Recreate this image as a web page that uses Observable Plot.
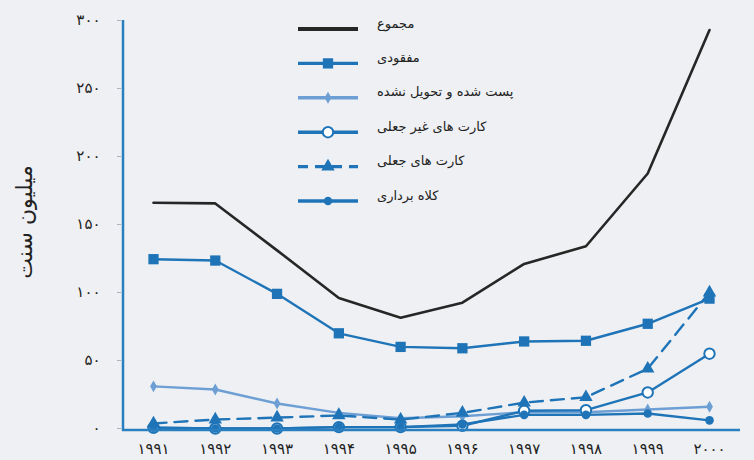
<!DOCTYPE html>
<html><head><meta charset="utf-8">
<script src="https://cdn.jsdelivr.net/npm/d3@7"></script>
<script src="https://cdn.jsdelivr.net/npm/@observablehq/plot@0.6"></script>
<style>body{margin:0;background:#eef0f3;}</style>
</head><body><div id="chart"></div>
<script>
const years = [1991, 1992, 1993, 1994, 1995, 1996, 1997, 1998, 1999, 2000];
const yearLabels = ["۱۹۹۱", "۱۹۹۲", "۱۹۹۳", "۱۹۹۴", "۱۹۹۵", "۱۹۹۶", "۱۹۹۷", "۱۹۹۸", "۱۹۹۹", "۲۰۰۰"];
const yTicks = [0, 50, 100, 150, 200, 250, 300];
const yTickLabels = ["۰", "۵۰", "۱۰۰", "۱۵۰", "۲۰۰", "۲۵۰", "۳۰۰"];
const yLabel = "میلیون سنت";

const seriesNames = ["مجموع", "مفقودی", "پست شده و تحویل نشده", "کارت های غیر جعلی", "کارت های جعلی", "کلاه برداری"];
const total          = [166, 165.5, 131, 96, 81.5, 92.5, 121, 134, 187.5, 293];
const lost           = [124.5, 123.5, 99, 70, 60, 59, 64, 64.5, 77, 95.5];
const mailNotRecv    = [31, 28.7, 18.4, 11.5, 7.5, 9, 12, 12, 14, 16];
const nonCounterfeit = [0.5, 0, 0, 1, 1, 2, 13, 13.5, 26.5, 55];
const counterfeit    = [3.7, 6.6, 8, 9.6, 6.5, 11.5, 19, 23, 44, 100];
const fraud          = [0.5, 0, 0, 1, 1, 3, 10, 10, 11, 6];

const blue = "#1f74b8", light = "#6d9fd4", black = "#262626";
const rows = vals => years.map((y, i) => ({year: y, value: vals[i]}));

const styles = [
  {data: total, stroke: black, width: 2.6, symbol: null},
  {data: lost, stroke: blue, width: 2.4, symbol: "square", r: 5.8, fill: blue},
  {data: mailNotRecv, stroke: light, width: 2.4, symbol: "diamond", r: 3.6, fill: light},
  {data: nonCounterfeit, stroke: blue, width: 2.4, symbol: "circle", r: 5.2, fill: "white", open: true},
  {data: counterfeit, stroke: blue, width: 2.4, symbol: "triangle", r: 5, fill: blue, dash: "13,8"},
  {data: fraud, stroke: blue, width: 2.4, symbol: "circle", r: 4.3, fill: blue}
];

const marks = [
  Plot.axisY({ticks: yTicks, tickFormat: d => yTickLabels[yTicks.indexOf(d)], tickSize: 4, dx: -2, tickPadding: 17, stroke: "#aab4c0", fill: "#222", label: null, fontSize: 15}),
  Plot.axisX({ticks: years, tickFormat: d => yearLabels[years.indexOf(d)], tickSize: 0, tickPadding: 13, fill: "#222", label: null, fontSize: 15})
];
for (const s of styles) {
  marks.push(Plot.lineY(rows(s.data), {x: "year", y: "value", stroke: s.stroke, strokeWidth: s.width, strokeDasharray: s.dash}));
}
for (const s of styles) {
  if (!s.symbol) continue;
  marks.push(Plot.dot(rows(s.data), {x: "year", y: "value", symbol: s.symbol, r: s.r, fill: s.fill, stroke: s.open ? s.stroke : "none", strokeWidth: s.open ? 2 : 0}));
}

const plot = Plot.plot({
  width: 754, height: 460,
  marginLeft: 123, marginRight: 14, marginTop: 20, marginBottom: 30,
  style: {background: "#eef0f3", fontFamily: "DejaVu Sans", fontSize: "12px", color: "#222"},
  x: {domain: [1991, 2000], range: [153, 709]},
  y: {domain: [0, 300], range: [428, 20]},
  marks
});
document.getElementById("chart").appendChild(plot);

const svg = d3.select(plot);
const ys = plot.scale("y");
const axisColor = "#2a7fc0";
svg.append("line").attr("x1", 123).attr("x2", 123).attr("y1", ys.apply(300)).attr("y2", 431)
  .attr("stroke", axisColor).attr("stroke-width", 2.5);
svg.append("line").attr("x1", 122).attr("x2", 740).attr("y1", 430).attr("y2", 430)
  .attr("stroke", axisColor).attr("stroke-width", 2.5);

svg.append("text").attr("transform", "translate(26,222) rotate(-90)")
  .attr("text-anchor", "middle").attr("dominant-baseline", "middle")
  .attr("font-size", 22).attr("fill", "#222").attr("font-family", "DejaVu Sans").text(yLabel);

// legend
const lg = svg.append("g");
styles.forEach((s, i) => {
  const y = 29 + i * 34.4;
  lg.append("line").attr("x1", 298).attr("x2", 358).attr("y1", y).attr("y2", y)
    .attr("stroke", s.stroke).attr("stroke-width", i === 0 ? 4 : 3.4)
    .attr("stroke-dasharray", s.dash ? "10,7" : null);
  if (s.symbol) {
    const sym = {square: d3.symbolSquare, diamond: d3.symbolDiamond, circle: d3.symbolCircle, triangle: d3.symbolTriangle}[s.symbol];
    lg.append("path").attr("transform", `translate(328,${y})`)
      .attr("d", d3.symbol(sym, Math.PI * s.r * s.r)())
      .attr("fill", s.fill).attr("stroke", s.open ? s.stroke : "none").attr("stroke-width", s.open ? 2 : 0);
  }
  lg.append("text").attr("x", 377).attr("y", y - 5).attr("dominant-baseline", "middle")
    .attr("direction", "rtl").attr("text-anchor", "end")
    .attr("font-size", 13).attr("fill", "#222").attr("font-family", "DejaVu Sans").text(seriesNames[i]);
});
</script></body></html>
